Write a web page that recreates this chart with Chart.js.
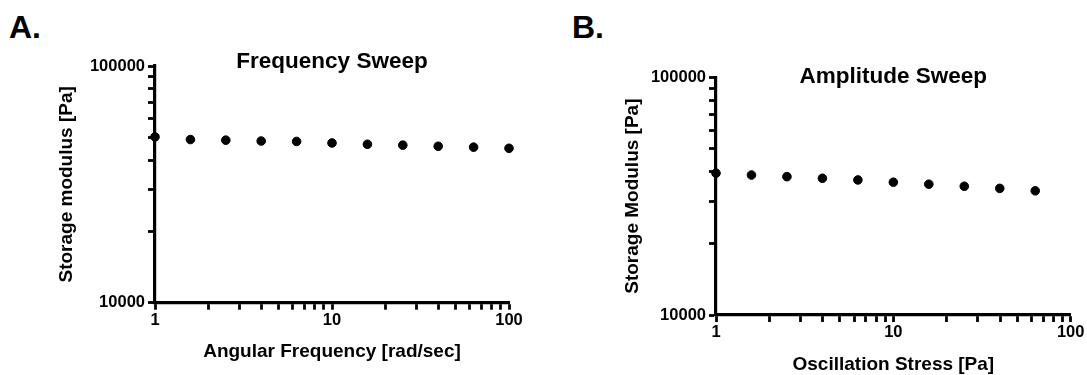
<!DOCTYPE html>
<html lang="en">
<head>
<meta charset="UTF-8">
<title>Storage modulus sweeps</title>
<script src="https://cdn.jsdelivr.net/npm/chart.js"></script>
<style>
  body { margin: 0; background: #fff; font-family: "Liberation Sans", Arial, sans-serif; }
  #wrap { position: relative; width: 1087px; height: 375px; }
  canvas { position: absolute; top: 0; }
  .panel { position: absolute; top: 11px; font-weight: bold; font-size: 32px; line-height: 32px; color: #000; }
</style>
</head>
<body>
<div id="wrap">
  <div class="panel" style="left:9px">A.</div>
  <div class="panel" style="left:572px">B.</div>
  <canvas id="freqChart" width="540" height="375" style="left:0"></canvas>
  <canvas id="ampChart" width="547" height="375" style="left:540px"></canvas>
</div>

<script>
// frequency sweep: angular frequency [rad/sec] vs storage modulus [Pa]
const freqX = [1, 1.585, 2.512, 3.981, 6.31, 10, 15.85, 25.12, 39.81, 63.1, 100];
const freqG = [50200, 48900, 48600, 48200, 48000, 47300, 46700, 46300, 45800, 45400, 44900];

// amplitude sweep: oscillation stress [Pa] vs storage modulus [Pa]
const ampX = [1, 1.585, 2.512, 3.981, 6.31, 10, 15.85, 25.12, 39.81, 63.1];
const ampG = [39500, 38800, 38200, 37600, 37000, 36200, 35500, 34800, 34100, 33300];

// tick marks and the ones that get a label
const xTicks = [1, 2, 3, 4, 5, 6, 7, 8, 9, 10, 20, 30, 40, 50, 60, 70, 80, 90, 100];
const yTicks = [10000, 20000, 30000, 40000, 50000, 60000, 70000, 80000, 90000, 100000];
const xLabels = [1, 10, 100];
const yLabels = [10000, 100000];

const FONT = 'Liberation Sans';

function makeChart(id, xs, ys, o) {
    const ctx = document.getElementById(id).getContext('2d');
    return new Chart(ctx, {
        type: 'scatter',
        data: {
            datasets: [{
                data: xs.map((x, i) => ({ x: x, y: ys[i] })),
                pointRadius: 4.3,
                pointHoverRadius: 4.3,
                backgroundColor: '#000',
                borderColor: '#000',
                clip: false
            }]
        },
        options: {
            responsive: false,
            animation: false,
            layout: { padding: { left: o.padLeft, right: o.padRight, top: 0, bottom: 0 } },
            plugins: {
                legend: { display: false },
                tooltip: { enabled: false },
                title: {
                    display: true,
                    text: o.title,
                    color: '#000',
                    fullSize: false,
                    font: { family: FONT, size: 22.5, weight: 'bold' },
                    padding: { top: o.titleTop, bottom: o.titleBottom }
                }
            },
            scales: {
                x: {
                    type: 'logarithmic',
                    min: 1,
                    max: 100,
                    afterBuildTicks: s => { s.ticks = xTicks.map(v => ({ value: v })); },
                    afterFit: s => { s.height = o.xHeight; },
                    ticks: {
                        autoSkip: false,
                        maxRotation: 0,
                        padding: 1,
                        color: '#000',
                        font: { family: FONT, size: 16.5, weight: 'bold' },
                        callback: v => xLabels.includes(v) ? String(v) : ''
                    },
                    grid: { drawOnChartArea: false, tickLength: 7, tickWidth: 2.8, tickColor: '#000' },
                    border: { width: 3.2, color: '#000' },
                    title: {
                        display: true,
                        text: o.xTitle,
                        color: '#000',
                        font: { family: FONT, size: 19, weight: 'bold' },
                        padding: { top: 0, bottom: o.xTitlePad }
                    }
                },
                y: {
                    type: 'logarithmic',
                    min: 10000,
                    max: 100000,
                    afterBuildTicks: s => { s.ticks = yTicks.map(v => ({ value: v })); },
                    afterFit: s => { s.width = o.yWidth; },
                    ticks: {
                        autoSkip: false,
                        padding: 3,
                        color: '#000',
                        font: { family: FONT, size: 16.5, weight: 'bold' },
                        callback: v => yLabels.includes(v) ? String(v) : ''
                    },
                    grid: { drawOnChartArea: false, tickLength: 7, tickWidth: 2.8, tickColor: '#000' },
                    border: { width: 3.2, color: '#000' },
                    title: {
                        display: true,
                        text: o.yTitle,
                        color: '#000',
                        font: { family: FONT, size: 19, weight: 'bold' },
                        padding: 0
                    }
                }
            }
        }
    });
}

makeChart('freqChart', freqX, freqG, {
    title: 'Frequency Sweep',
    xTitle: 'Angular Frequency [rad/sec]',
    yTitle: 'Storage modulus [Pa]',
    padLeft: 55.6, padRight: 31,
    yWidth: 99.4, xHeight: 72.3, xTitlePad: 11.9,
    titleTop: 48.2, titleBottom: -9.2
});

makeChart('ampChart', ampX, ampG, {
    title: 'Amplitude Sweep',
    xTitle: 'Oscillation Stress [Pa]',
    yTitle: 'Storage Modulus [Pa]',
    padLeft: 81.6, padRight: 16.3,
    yWidth: 94.4, xHeight: 60, xTitlePad: -1,
    titleTop: 62.8, titleBottom: -12.5
});
</script>
</body>
</html>
